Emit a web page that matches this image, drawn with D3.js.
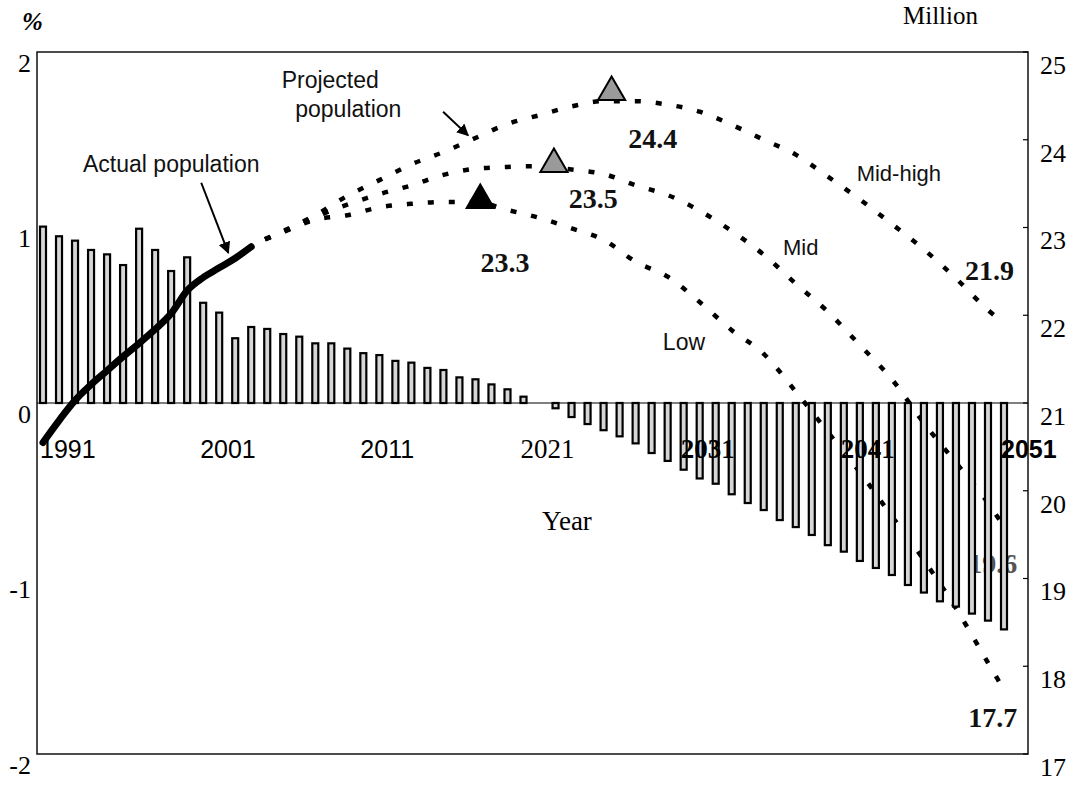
<!DOCTYPE html>
<html>
<head>
<meta charset="utf-8">
<script src="https://cdn.jsdelivr.net/npm/d3@7"></script>
<style>
  body { margin: 0; background: #fff; }
</style>
</head>
<body>
<div id="chart"></div>
<script>
// ---- data ----
const barYears = d3.range(1991, 2052)
// annual growth rate, %
const growthRate = [
    1.005, 0.95, 0.925, 0.872, 0.847, 0.786, 0.993, 0.872, 0.752, 0.83,
    0.571, 0.515, 0.369, 0.433, 0.422, 0.393, 0.378, 0.34, 0.34, 0.31,
    0.284, 0.273, 0.24, 0.23, 0.20, 0.188, 0.146, 0.135, 0.106, 0.078,
    0.036, 0.0, -0.03, -0.08, -0.12, -0.155, -0.19, -0.23, -0.285, -0.33,
    -0.38, -0.43, -0.46, -0.52, -0.57, -0.61, -0.667, -0.707, -0.752, -0.81,
    -0.847, -0.90, -0.94, -0.98, -1.037, -1.08, -1.13, -1.16, -1.20, -1.24,
    -1.29
]

// population, million
const actualYears = [1991, 1992, 1993, 1994, 1995, 1996, 1997, 1998, 1999, 2000, 2001, 2002, 2003, 2004]
const actualPop = [20.55, 20.80, 21.03, 21.21, 21.37, 21.53, 21.68, 21.84, 22.02, 22.28, 22.43, 22.54, 22.65, 22.78]

const projYears = [2004, 2006, 2008, 2010, 2012, 2014, 2016, 2018, 2020, 2022, 2024, 2026,
    2028, 2030, 2032, 2034, 2036, 2038, 2040, 2042, 2044, 2046, 2048, 2050, 2051]
const midHigh = [22.80, 22.96, 23.14, 23.36, 23.54, 23.72, 23.86, 24.02, 24.18, 24.28, 24.38, 24.44,
    24.44, 24.40, 24.32, 24.17, 24.00, 23.83, 23.58, 23.32, 23.04, 22.75, 22.42, 22.06, 21.91]
const mid = [22.80, 22.95, 23.12, 23.26, 23.38, 23.48, 23.60, 23.67, 23.69, 23.70, 23.66, 23.61,
    23.48, 23.37, 23.19, 22.96, 22.69, 22.36, 22.04, 21.66, 21.27, 20.77, 20.32, 19.86, 19.59]
const low = [22.80, 22.95, 23.09, 23.14, 23.23, 23.27, 23.29, 23.29, 23.20, 23.11, 22.99, 22.86,
    22.61, 22.44, 22.15, 21.83, 21.56, 21.13, 20.67, 20.21, 19.71, 19.21, 18.66, 18.04, 17.73]

// peak markers
const peakYears = [2026.5, 2022.9, 2018.3]
const peakValues = [24.45, 23.63, 23.22]
const peakFills = ["#9a9a9a", "#9a9a9a", "#000"]

// tick labels
const xTickYears = [1991, 2001, 2011, 2021, 2031, 2041, 2051]
const leftTicks = [2, 1, 0, -1, -2]
const rightTicks = [25, 24, 23, 22, 21, 20, 19, 18, 17]

const width = 1078
const height = 785
const frame = {left: 37, top: 52, right: 1028, bottom: 754}

const serif = "'Liberation Serif', 'Times New Roman', serif"
const sans = "'Liberation Sans', Arial, sans-serif"

let svg = d3.select("#chart")
    .append("svg")
    .attr("width", width)
    .attr("height", height)
    .style("background", "#fff")

// scales
let x = d3.scaleLinear().domain([1991, 2051]).range([43, 1004])
let yL = d3.scaleLinear().domain([-2, 2]).range([frame.bottom, frame.top])
let yR = d3.scaleLinear().domain([17, 25]).range([frame.bottom, frame.top])

// projected population (dotted), drawn under the bars
let projLine = d3.line()
    .x((d, i) => x(projYears[i]))
    .y(d => yR(d))
    .curve(d3.curveMonotoneX)

svg.append("g")
    .selectAll("path")
    .data([midHigh, mid, low])
    .enter()
    .append("path")
    .attr("d", projLine)
    .attr("fill", "none")
    .attr("stroke", "#000")
    .attr("stroke-width", 4.5)
    .attr("stroke-dasharray", "6 15")
    .attr("stroke-dashoffset", 6)

// "19.6" sits behind the bars in the original
svg.append("text")
    .attr("x", x(2050.3))
    .attr("y", yR(19.06))
    .attr("text-anchor", "middle")
    .style("font-family", serif)
    .style("font-size", "28px")
    .style("font-weight", "bold")
    .style("fill", "#555")
    .text("19.6")

// growth rate bars
const barW = 6
svg.append("g")
    .selectAll("rect")
    .data(growthRate)
    .enter()
    .append("rect")
    .attr("x", (d, i) => x(barYears[i]) - barW / 2)
    .attr("y", d => yL(Math.max(d, 0)))
    .attr("width", barW)
    .attr("height", d => Math.abs(yL(d) - yL(0)))
    .attr("fill", "#d6d6d6")
    .attr("stroke", "#000")
    .attr("stroke-width", 2.2)

// zero line
svg.append("line")
    .attr("x1", frame.left).attr("x2", frame.right)
    .attr("y1", yL(0)).attr("y2", yL(0))
    .attr("stroke", "#000")
    .attr("stroke-width", 1)

// frame
svg.append("rect")
    .attr("x", frame.left).attr("y", frame.top)
    .attr("width", frame.right - frame.left)
    .attr("height", frame.bottom - frame.top)
    .attr("fill", "none")
    .attr("stroke", "#111")
    .attr("stroke-width", 1.5)

// right axis inner ticks
svg.append("g")
    .selectAll("line")
    .data(rightTicks)
    .enter()
    .append("line")
    .attr("x1", frame.right - 5).attr("x2", frame.right)
    .attr("y1", d => yR(d)).attr("y2", d => yR(d))
    .attr("stroke", "#000")
    .attr("stroke-width", 1.2)

// actual population (thick solid)
let actLine = d3.line()
    .x((d, i) => x(actualYears[i]))
    .y(d => yR(d))
    .curve(d3.curveMonotoneX)

svg.append("path")
    .datum(actualPop)
    .attr("d", actLine)
    .attr("fill", "none")
    .attr("stroke", "#000")
    .attr("stroke-width", 7)
    .attr("stroke-linecap", "round")

// peak triangles, base sitting on the curve
let tri = d3.symbol().type(d3.symbolTriangle).size(320)
svg.append("g")
    .selectAll("path")
    .data(peakValues)
    .enter()
    .append("path")
    .attr("d", tri)
    .attr("transform", (d, i) => "translate(" + x(peakYears[i]) + "," + (yR(d) - 8) + ")")
    .attr("fill", (d, i) => peakFills[i])
    .attr("stroke", "#000")
    .attr("stroke-width", 2)

// left axis labels
svg.append("g")
    .selectAll("text")
    .data(leftTicks)
    .enter()
    .append("text")
    .attr("x", 31)
    .attr("y", d => yL(d) + 14)
    .attr("text-anchor", "end")
    .attr("dominant-baseline", "middle")
    .style("font-family", serif)
    .style("font-size", "26px")
    .text(d => d)

// right axis labels
svg.append("g")
    .selectAll("text")
    .data(rightTicks)
    .enter()
    .append("text")
    .attr("x", 1040)
    .attr("y", d => yR(d) + 16)
    .attr("dominant-baseline", "middle")
    .style("font-family", serif)
    .style("font-size", "26px")
    .text(d => d)

// x tick labels (left-aligned at their year, as in the original)
svg.append("g")
    .selectAll("text")
    .data(xTickYears)
    .enter()
    .append("text")
    .attr("x", d => x(d) - 3)
    .attr("y", 458)
    .style("font-family", (d, i) => (i >= 3 && i <= 5) ? serif : sans)
    .style("font-size", (d, i) => (i >= 3 && i <= 5) ? "27px" : "25px")
    .style("font-weight", (d, i) => i >= 4 ? "bold" : "normal")
    .text(d => d)

// axis titles
svg.append("text")
    .attr("x", 22).attr("y", 30)
    .style("font-family", serif)
    .style("font-size", "25px")
    .style("font-weight", "bold")
    .style("font-style", "italic")
    .text("%")

svg.append("text")
    .attr("x", 903).attr("y", 24)
    .style("font-family", serif)
    .style("font-size", "25px")
    .text("Million")

svg.append("text")
    .attr("x", 567).attr("y", 530)
    .attr("text-anchor", "middle")
    .style("font-family", serif)
    .style("font-size", "27px")
    .text("Year")

// annotations (anchored in data units)
const sansNotes = [
    {text: "Actual population", year: 1993.5, value: 23.63, size: 23},
    {text: "Projected", year: 2005.9, value: 24.59, size: 23},
    {text: "population", year: 2006.75, value: 24.26, size: 23},
    {text: "Mid-high", year: 2041.8, value: 23.53, size: 22},
    {text: "Mid", year: 2037.2, value: 22.69, size: 22},
    {text: "Low", year: 2029.7, value: 21.60, size: 23}
]
svg.append("g")
    .selectAll("text")
    .data(sansNotes)
    .enter()
    .append("text")
    .attr("x", d => x(d.year))
    .attr("y", d => yR(d.value))
    .style("font-family", sans)
    .style("font-size", d => d.size + "px")
    .style("fill", "#111")
    .text(d => d.text)

const valueNotes = [
    {text: "24.4", year: 2029.07, value: 23.91},
    {text: "23.5", year: 2025.35, value: 23.22},
    {text: "23.3", year: 2019.85, value: 22.49},
    {text: "21.9", year: 2050.1, value: 22.40},
    {text: "17.7", year: 2050.3, value: 17.31}
]
svg.append("g")
    .selectAll("text")
    .data(valueNotes)
    .enter()
    .append("text")
    .attr("x", d => x(d.year))
    .attr("y", d => yR(d.value))
    .attr("text-anchor", "middle")
    .style("font-family", serif)
    .style("font-size", "28px")
    .style("font-weight", "bold")
    .style("fill", "#111")
    .text(d => d.text)

// arrows
svg.append("defs")
    .append("marker")
    .attr("id", "arrow")
    .attr("viewBox", "0 0 10 10")
    .attr("refX", 9).attr("refY", 5)
    .attr("markerWidth", 6).attr("markerHeight", 6)
    .attr("markerUnits", "strokeWidth")
    .attr("orient", "auto")
    .append("path")
    .attr("d", "M0,0 L10,5 L0,10 z")
    .attr("fill", "#000")

const arrows = [
    {from: [2000.88, 23.51], to: [2002.57, 22.71]},
    {from: [2015.98, 24.32], to: [2017.54, 24.05]}
]
svg.append("g")
    .selectAll("line")
    .data(arrows)
    .enter()
    .append("line")
    .attr("x1", d => x(d.from[0])).attr("y1", d => yR(d.from[1]))
    .attr("x2", d => x(d.to[0])).attr("y2", d => yR(d.to[1]))
    .attr("stroke", "#000")
    .attr("stroke-width", 2)
    .attr("marker-end", "url(#arrow)")
</script>
</body>
</html>
